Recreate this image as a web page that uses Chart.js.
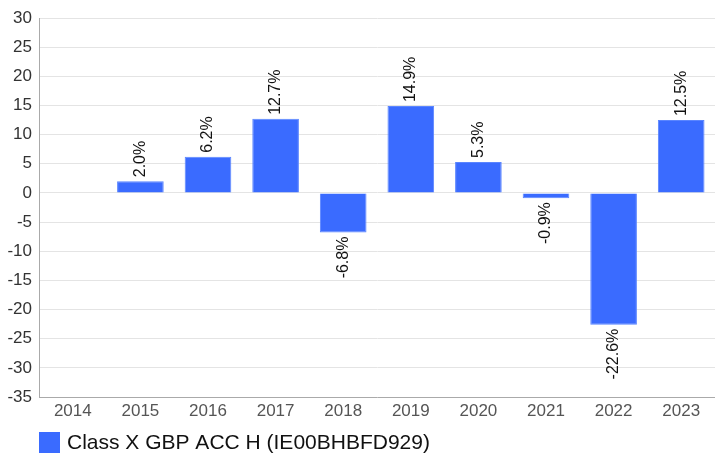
<!DOCTYPE html>
<html><head><meta charset="utf-8">
<script src="https://cdn.jsdelivr.net/npm/chart.js@4"></script>
<style>html,body{margin:0;padding:0;background:#fff}#wrap{width:715px;height:455px}</style>
</head><body><div id="wrap"><canvas id="c"></canvas></div>
<script>
const years = ['2014','2015','2016','2017','2018','2019','2020','2021','2022','2023'];
const returns = [null, 2.0, 6.2, 12.7, -6.8, 14.9, 5.3, -0.9, -22.6, 12.5];
const seriesName = 'Class X GBP ACC H (IE00BHBFD929)';
const yMin = -35, yMax = 30, yStep = 5;
const FONT = '"Liberation Sans", Arial, sans-serif';
const BAR_COLOR = '#3a6bff';

const labelPlugin = {
  id: 'barLabels',
  afterDatasetsDraw(chart) {
    const ctx = chart.ctx;
    const meta = chart.getDatasetMeta(0);
    ctx.save();
    ctx.font = '16px ' + FONT;
    ctx.fillStyle = '#111';
    meta.data.forEach((bar, i) => {
      const v = returns[i];
      if (v === null || v === undefined) return;
      const txt = v.toFixed(1) + '%';
      ctx.save();
      ctx.translate(bar.x, bar.y);
      ctx.rotate(-Math.PI / 2);
      ctx.textBaseline = 'middle';
      if (v >= 0) { ctx.textAlign = 'left'; ctx.fillText(txt, 4, 0); }
      else { ctx.textAlign = 'right'; ctx.fillText(txt, -4, 0); }
      ctx.restore();
    });
    ctx.restore();
  }
};

const legendPlugin = {
  id: 'customLegend',
  afterDraw(chart) {
    const ctx = chart.ctx;
    const ds = chart.data.datasets[0];
    const x0 = chart.chartArea.left;
    const y0 = 432;
    ctx.save();
    ctx.fillStyle = ds.backgroundColor;
    ctx.fillRect(x0, y0, 21, 21);
    ctx.fillStyle = '#111';
    ctx.font = '21px ' + FONT;
    ctx.textBaseline = 'middle';
    ctx.textAlign = 'left';
    ctx.fillText(ds.label, x0 + 28, y0 + 11);
    ctx.restore();
  }
};

new Chart(document.getElementById('c'), {
  type: 'bar',
  data: { labels: years, datasets: [{
    label: seriesName, data: returns,
    backgroundColor: BAR_COLOR, borderColor: '#5a85ff', borderWidth: 1,
    barPercentage: 0.69, categoryPercentage: 1.0
  }]},
  options: {
    responsive: true, maintainAspectRatio: false, animation: false,
    layout: { padding: { left: 0, right: -4, top: 18, bottom: 30 } },
    plugins: { tooltip: { enabled: false }, legend: { display: false } },
    scales: {
      x: { grid: { display: false, drawTicks: false },
           border: { color: '#aaa' },
           afterFit(s) { s.height = 28; },
           ticks: { color: '#555', padding: 4, font: { size: 17, family: FONT } } },
      y: { min: yMin, max: yMax,
           grid: { color: '#e4e4e4', drawTicks: false },
           border: { color: '#aaa' },
           afterFit(s) { s.width = 39; },
           ticks: { stepSize: yStep, color: '#333', padding: 7, font: { size: 17, family: FONT } } }
    }
  },
  plugins: [labelPlugin, legendPlugin]
});
</script></body></html>
